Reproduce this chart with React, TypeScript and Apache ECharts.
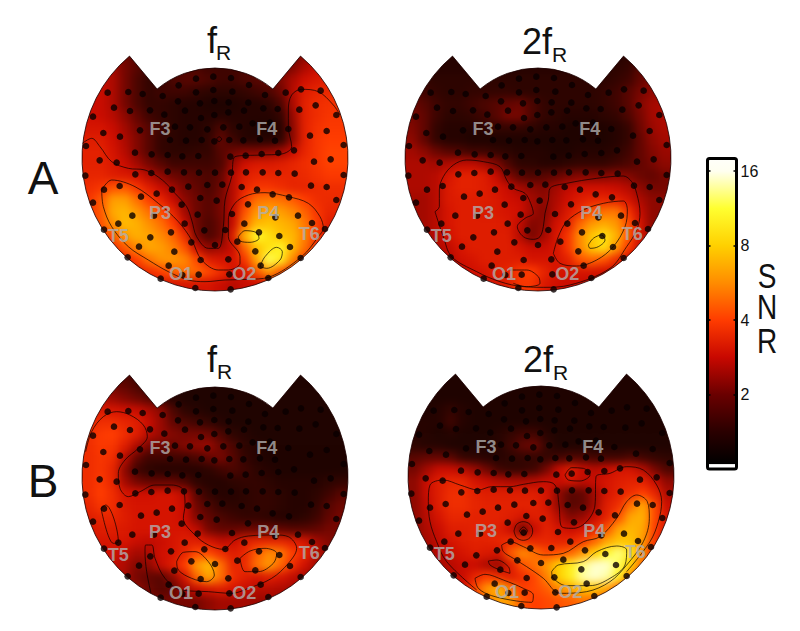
import React, { useEffect, useRef } from "react";
import * as echarts from "echarts";

const panelTitles = ["f", "2f", "f", "2f"];
const rowLetters = ["A", "B"];
const colorbarTicks = [2, 4, 8, 16];
const snrLetters = ["S", "N", "R"];

// Colours for log2(SNR) = 0, 0.5, 1 ... 4
const snrPalette = ["#000000", "#2a0000", "#6a0000", "#c80800", "#ff3c00", "#ff8c00", "#ffd000", "#ffff30", "#fffff0"];
const mapPalette = ["#170200", "#340400", "#760600", "#cc0c00", "#ff3c00", "#ff8c00", "#ffd000", "#ffff30", "#fffff0"];

const snrAF: number[][] = [
  [2.5,2.5,2.2,1.9,1.7,1.6,1.5,1.4,1.4,1.4,1.4,1.4,1.4,1.4,1.4,1.5,1.6,1.8,2.2,2.6,3,3],
  [2.6,2.6,2.4,2,1.7,1.5,1.4,1.5,1.6,1.6,1.5,1.5,1.5,1.6,1.6,1.6,1.8,2.1,2.5,2.8,3,3],
  [2.7,2.7,2.5,2,1.6,1.4,1.4,1.6,1.7,1.7,1.6,1.5,1.5,1.6,1.7,1.8,2.1,2.5,2.9,3.1,3.2,3.2],
  [2.8,2.8,2.5,2,1.6,1.4,1.5,1.5,1.5,1.4,1.3,1.3,1.3,1.4,1.5,1.6,1.9,2.6,3.2,3.4,3.5,3.5],
  [2.8,2.8,2.5,2,1.6,1.4,1.4,1.3,1.2,1.2,1.1,1.1,1.1,1.2,1.2,1.3,1.6,2.5,3.3,3.6,3.7,3.7],
  [2.9,2.8,2.6,2.2,1.8,1.5,1.4,1.3,1.2,1.2,1.2,1.2,1.2,1.2,1.2,1.2,1.4,2.3,3.3,3.6,3.8,3.8],
  [3,3,2.8,2.4,2,1.7,1.5,1.3,1.2,1.2,1.3,1.6,1.3,1.2,1.1,1.1,1.2,2.2,3.3,3.7,3.9,3.9],
  [3.2,3.2,2.9,2.5,2.1,1.7,1.4,1.3,1.2,1.2,1.4,1.8,1.5,1.2,1.2,1.2,1.3,2.2,3.3,3.8,4,4],
  [3.3,3.3,3,2.6,2.1,1.7,1.4,1.3,1.3,1.4,1.4,1.7,1.9,2.1,2.1,2.2,2.4,2.8,3.4,3.8,4.1,4.1],
  [3.3,3.3,3.1,2.8,2.4,2,1.7,1.5,1.5,1.5,1.5,1.6,2.3,2.9,3.1,3.1,3.2,3.4,3.6,3.8,4.1,4.1],
  [3.4,3.4,3.2,3.1,3,2.6,2.2,1.9,1.8,1.7,1.6,1.8,2.6,3.2,3.4,3.4,3.4,3.4,3.5,3.7,3.9,3.9],
  [3.6,3.8,4.4,4.5,3.8,3.2,2.8,2.4,2,1.8,1.6,1.9,2.6,3.4,3.8,3.8,3.6,3.4,3.4,3.5,3.6,3.6],
  [3.8,4.5,6.2,6.2,5,4,3.4,2.8,2.2,1.9,1.7,2,2.6,3.8,5,5.2,5,4.6,4,3.6,3.5,3.5],
  [3.8,4.5,6.6,7,6,5,4.3,3.4,2.4,1.9,1.7,2,2.7,4.4,6,6.5,6.2,5.5,4.7,3.8,3.4,3.4],
  [3.8,4.4,5.8,7.2,6.8,5.8,5,4,2.8,1.9,1.6,1.9,2.8,5,7,7.5,7,6.5,5.2,4,3.2,3],
  [3.2,3.6,4.5,6,6.8,6.4,5.6,4.8,3.6,2,1.6,1.9,3.2,7,11,9,7.5,7,5.4,3.8,3,3],
  [3,3,3.6,4.5,5.5,6.5,6.2,5.4,4.4,2.8,2.2,2.4,2.8,4.8,7.5,9,10.5,7,5,3.5,3,3],
  [3,3,3,3.4,4,5,5.8,6,5.5,4.2,3.2,3,3,3.8,6.5,12,10,5.5,3.8,3,3,3],
  [3,3,3,3,3.2,3.6,4,4.6,5,4.8,4.2,3.6,3,3,4.5,6,4.5,3.4,3,3,3,3],
  [2.8,2.8,2.8,2.8,2.8,2.9,3,3,3,3,3,2.8,2.6,2.8,2.8,2.9,2.8,2.7,2.7,2.7,2.7,2.7],
];

const snrA2F: number[][] = [
  [1.3,1.3,1.2,1.2,1.2,1.2,1.2,1.2,1.2,1.2,1.2,1.2,1.2,1.2,1.2,1.2,1.2,1.2,1.3,1.4,1.6,1.8],
  [1.4,1.3,1.2,1.2,1.2,1.2,1.2,1.2,1.2,1.2,1.2,1.2,1.2,1.2,1.2,1.2,1.2,1.3,1.4,1.7,2,2.2],
  [1.5,1.4,1.3,1.3,1.3,1.3,1.3,1.3,1.3,1.3,1.3,1.3,1.3,1.3,1.3,1.3,1.3,1.4,1.5,1.8,2.1,2.3],
  [1.7,1.5,1.4,1.3,1.3,1.4,1.4,1.4,1.4,1.3,1.3,1.3,1.3,1.3,1.3,1.3,1.4,1.5,1.7,2,2.2,2.4],
  [1.9,1.7,1.5,1.4,1.4,1.5,1.6,1.7,1.8,1.9,1.6,1.4,1.3,1.3,1.3,1.3,1.4,1.5,1.7,2.1,2.4,2.5],
  [2,1.8,1.5,1.3,1.3,1.4,1.5,1.7,2,2,1.6,1.4,1.3,1.2,1.2,1.2,1.3,1.4,1.6,2,2.4,2.5],
  [2.1,1.8,1.4,1.2,1.2,1.2,1.3,1.4,1.4,1.4,1.3,1.2,1.2,1.1,1.1,1.1,1.1,1.2,1.4,1.9,2.3,2.5],
  [2.2,1.8,1.4,1.2,1.2,1.1,1.1,1.1,1.1,1.1,1.1,1.1,1.1,1.1,1.1,1.1,1.1,1.2,1.4,1.8,2.2,2.4],
  [2.4,2.2,1.9,1.7,1.6,1.5,1.5,1.4,1.3,1.2,1.2,1.2,1.1,1.1,1.2,1.2,1.2,1.3,1.5,1.8,2.1,2.3],
  [2.5,2.5,2.4,2.5,2.7,2.7,2.5,2.1,1.6,1.3,1.3,1.2,1.2,1.3,1.4,1.4,1.4,1.5,1.6,1.8,2,2.2],
  [2.5,2.5,2.6,3,3.3,3.3,3.2,2.8,2.1,1.7,1.6,1.7,1.8,2,2.1,2.1,2.1,2.2,2.1,1.9,1.8,2],
  [2.5,2.5,2.6,3.1,3.3,3.3,3.2,3,2.8,2.4,2.2,2.1,2.4,2.7,2.9,2.9,2.9,2.8,2.6,2.2,2,2],
  [2.4,2.4,2.6,3.1,3.2,3.2,3.2,3.1,2.9,2.8,2.4,2.2,2.5,2.9,3.2,3.4,3.4,3.3,3,2.5,2.2,2.2],
  [2.4,2.4,2.6,3,3.2,3.2,3.1,3.1,3,2.9,2.4,2.1,2.6,3.1,3.6,4.4,5,5.2,3.8,2.8,2.2,2.2],
  [2.4,2.4,2.6,3,3.2,3.2,3.2,3.2,3.1,2.7,2.1,2.2,2.9,3.3,4.8,6,6.6,6,4.4,3,2.2,2.2],
  [2.4,2.4,2.6,2.9,3.2,3.2,3.2,3.2,3.2,2.6,2,2.4,3,3.8,5.6,7.6,9,7,4.6,3,2.3,2.3],
  [2.4,2.4,2.5,2.7,3,3.2,3.2,3.2,3.2,3,2.8,2.8,3,3.8,5.5,7.5,9,6,4,2.8,2.3,2.3],
  [2.4,2.4,2.4,2.5,2.9,3,3.2,3.2,3.2,3.2,3,3,3,3.3,4.4,4.8,4.4,3.6,2.8,2.4,2.3,2.3],
  [2.4,2.4,2.4,2.4,2.6,2.9,3,3.2,3.4,3.9,4,3.4,3,3,3,3,2.9,2.7,2.5,2.4,2.3,2.3],
  [2.4,2.4,2.4,2.4,2.5,2.7,2.9,3,3.2,3.8,3.8,3.1,2.9,2.8,2.8,2.7,2.6,2.5,2.4,2.3,2.3,2.3],
];

const snrBF: number[][] = [
  [2,1.8,1.7,1.6,1.5,1.3,1.2,1.1,1.1,1.1,1.1,1.1,1.1,1.1,1.1,1.1,1.1,1.1,1.1,1.1,1.1,1.1],
  [2.2,2,1.9,1.8,1.6,1.4,1.2,1.1,1.1,1.1,1.1,1.1,1.1,1.1,1.1,1.1,1.1,1.1,1.1,1.1,1.1,1.1],
  [2.6,2.5,2.3,2.1,1.9,1.7,1.4,1.2,1.1,1.1,1.1,1.1,1.1,1.1,1.1,1.1,1.1,1.1,1.1,1.1,1.1,1.1],
  [3,3.1,3,2.9,2.8,2.5,2.2,1.6,1.3,1.2,1.1,1.1,1.1,1.1,1.1,1.1,1.1,1.1,1.1,1.1,1.1,1.1],
  [3.4,3.6,3.6,3.4,3.2,2.8,2.3,1.8,1.6,1.5,1.4,1.2,1.1,1.1,1.1,1.1,1.1,1.1,1.1,1.1,1.1,1.1],
  [3.6,3.9,4,3.6,3.2,2.6,2.3,2.1,2,2,1.9,1.6,1.3,1.2,1.1,1.1,1.1,1.1,1.1,1.1,1.1,1.1],
  [3.6,3.9,3.8,3.2,2.5,2,1.9,1.9,2.1,2.2,2.3,1.9,1.6,1.3,1.2,1.1,1.1,1.1,1.1,1.1,1.1,1.1],
  [3.6,3.8,3.6,2.6,1.8,1.5,1.5,1.5,1.5,1.6,1.8,2,1.7,1.4,1.2,1.1,1.1,1.1,1.1,1.1,1.1,1.1],
  [3.6,3.8,3.4,2.2,1.5,1.3,1.2,1.2,1.2,1.2,1.3,1.5,1.6,1.5,1.3,1.2,1.1,1.1,1.1,1.1,1.1,1.1],
  [3.6,3.9,3.4,2.4,2,1.8,1.8,1.8,1.6,1.3,1.2,1.2,1.3,1.4,1.4,1.3,1.2,1.2,1.2,1.2,1.3,1.4],
  [3.6,4,3.6,3,2.9,2.9,3,3,2.6,1.7,1.4,1.2,1.2,1.3,1.4,1.4,1.3,1.2,1.2,1.3,1.5,1.7],
  [3.4,3.8,3.6,3.1,3,3,3,3,2.8,1.9,1.6,1.4,1.3,1.3,1.4,1.4,1.3,1.2,1.2,1.4,1.7,1.9],
  [3.2,3.4,3.4,3.2,3,3,3,3,2.8,2.1,1.8,1.6,1.5,1.4,1.4,1.3,1.2,1.2,1.3,1.5,1.8,2],
  [3,3.2,3.2,3.1,3,3,3,3,3,2.7,2,1.8,1.8,1.9,1.9,1.9,1.8,1.7,1.7,1.8,2,2],
  [3,3,3,3,2.8,2.7,2.8,3,3.2,3.2,3,2.7,2.8,3.2,3.4,3.4,3.4,3.2,3,2.4,2.1,2],
  [3,2.9,2.9,2.7,2.4,2.5,2.9,3,3.4,4.2,4.2,3.6,3.2,3.4,4.6,5.6,5.2,4,3.4,2.6,2.2,2],
  [3,2.8,2.7,2.5,2.1,2.2,2.8,3.2,4,6,7.2,5,3.4,3.5,5,6,4.8,3.6,2.9,2.4,2.2,2],
  [2.8,2.7,2.6,2.4,2,1.8,1.7,2.2,3,4.8,6.4,5,3.6,3.2,3,3.2,3,2.7,2.4,2.2,2.1,2],
  [2.5,2.5,2.5,2.4,2.2,1.9,1.7,1.8,2.4,2.8,3,3.2,3,2.8,2.6,2.6,2.5,2.4,2.3,2.1,2,2],
  [2.4,2.4,2.4,2.4,2.3,2.1,2,2,2,2,2.2,2.4,2.4,2.4,2.3,2.3,2.3,2.2,2.2,2,2,2],
];

const snrB2F: number[][] = [
  [1.1,1.1,1.1,1.1,1.1,1.1,1.1,1.1,1.1,1.1,1.1,1.1,1.1,1.1,1.1,1.1,1.1,1.1,1.1,1.1,1.1,1.1],
  [1.1,1.1,1.1,1.1,1.1,1.1,1.1,1.1,1.1,1.1,1.1,1.1,1.1,1.1,1.1,1.1,1.1,1.1,1.1,1.1,1.1,1.1],
  [1.1,1.1,1.1,1.1,1.1,1.1,1.1,1.1,1.1,1.1,1.1,1.1,1.1,1.1,1.1,1.1,1.1,1.1,1.1,1.1,1.1,1.1],
  [1.1,1.1,1.2,1.4,1.2,1.1,1.1,1.1,1.1,1.1,1.1,1.1,1.1,1.1,1.1,1.1,1.1,1.1,1.1,1.1,1.1,1.1],
  [1.2,1.2,1.2,1.5,1.2,1.1,1.1,1.1,1.1,1.1,1.1,1.1,1.1,1.1,1.1,1.1,1.1,1.1,1.1,1.1,1.1,1.1],
  [1.2,1.2,1.1,1.2,1.1,1.1,1.1,1.2,1.4,1.5,1.5,1.2,1.1,1.1,1.1,1.1,1.1,1.1,1.1,1.1,1.1,1.1],
  [1.3,1.2,1.2,1.1,1.1,1.1,1.1,1.2,1.5,1.8,1.9,1.4,1.1,1.1,1.1,1.1,1.1,1.1,1.1,1.1,1.1,1.1],
  [1.7,1.8,1.8,1.7,1.4,1.3,1.2,1.2,1.3,1.4,1.4,1.4,1.5,1.6,1.6,1.5,1.5,1.5,1.6,1.5,1.4,1.3],
  [2,2.4,2.8,2.8,2.6,2.3,1.9,1.5,1.4,1.4,1.5,2,2.8,3.2,2.8,2.6,2.8,3,3,2.6,2,1.6],
  [2.2,2.8,3.2,3.4,3.4,3,2.8,2.6,2.5,2.5,2.6,2.8,2.8,3,2.7,2.8,3,3.2,3.3,3.3,2.8,2.2],
  [2.2,2.8,3.2,3.6,3.6,3.3,3.2,3.2,3.2,3.2,3.2,3,2.2,1.7,1.8,2.4,3,3.3,3.6,4,3.4,2.5],
  [2.2,2.7,3.2,3.6,3.6,3.4,3.3,3.3,3.3,3.3,3.3,3,2.2,1.7,1.8,2.4,3.2,3.6,5,6.5,4.2,2.8],
  [2.2,2.6,3,3.4,3.4,3.3,3.3,3.3,3.2,3,3.2,3.2,2.6,2.1,2.3,2.8,3.3,4.4,6.5,6.8,4.2,3],
  [2.2,2.5,2.8,3.2,3.2,3.3,3.3,3.2,2.8,1.9,2.8,3.3,3,2.8,3,3.4,4.4,6.4,7,6.5,4,3],
  [2.2,2.4,2.7,3,3.2,3.3,3.3,3.4,3.6,3.6,3.4,3.4,3.3,3.4,3.8,4.8,6.4,7.5,7.5,6,3.8,2.8],
  [2.2,2.4,2.6,2.8,3,3.2,3.1,3,4.6,5.6,5,4.2,4.4,4.8,6,8,11,13,9.5,5.5,3.4,2.8],
  [2.2,2.3,2.4,2.6,2.8,2.8,2.5,2.3,3.2,4.4,5,6,8,10,13,15,15,12,8,4.8,3.2,2.8],
  [2.2,2.3,2.4,2.6,2.8,3.4,4,3.6,3.2,3.6,4.2,5.4,8,10,14,15,14,10,5.5,3.6,2.8,2.8],
  [2.2,2.3,2.4,2.6,2.9,4.2,6,7,5.2,4,4.2,4.6,5.5,6.5,7.5,7.5,6.5,4.6,3.6,3,2.8,2.8],
  [2.2,2.3,2.4,2.6,2.8,3.4,5,6.4,6,4.4,4,4.2,4.4,4.6,5,4.8,4.2,3.4,3,2.8,2.8,2.8],
];

// Electrode net (same for all panels), in head units
const electrodes: number[][] = [
  [363,116],[415,110],[468,114],[311,136],[522,135],[263,168],[363,157],[415,150],[472,155],[570,165],
  [98,158],[160,156],[203,162],[632,158],[678,148],[737,152],[309,184],[418,183],[461,187],[375,190],[520,188],
  [117,203],[165,213],[225,211],[268,224],[330,212],[378,234],[460,217],[418,225],[507,212],[608,207],[565,205],[673,209],[722,196],
  [54,230],[345,262],[397,268],[445,262],[493,260],[533,250],[585,248],[640,267],[755,273],[705,287],[784,225],
  [85,279],[135,290],[195,271],[300,260],[33,318],[180,338],[230,343],[278,345],[322,349],[370,348],
  [418,304],[463,300],[505,301],[555,298],[600,302],[333,302],[285,300],[380,300],
  [466,350],[512,347],[560,342],[610,339],[657,331],[717,365],[767,358],[806,315],[806,405],
  [74,361],[125,368],[31,407],[181,403],[229,399],[278,395],[327,397],[372,398],[420,398],[468,398],[513,397],[563,397],[610,399],[659,401],[708,437],[755,441],
  [87,449],[134,438],[198,470],[245,461],[291,449],[340,440],[397,435],[442,434],[500,441],[546,449],[593,463],[642,472],[784,480],
  [54,488],[320,494],[376,474],[425,482],[519,493],[471,522],[368,524],[172,527],[237,527],
  [669,527],[601,532],[130,551],[329,551],[508,551],[711,549],[87,569],[388,571],[451,570],[552,577],[613,588],[750,567],
  [226,592],[288,577],[349,607],[487,605],[645,621],[192,620],[420,615],[298,635],[541,634],[158,652],[377,660],[460,658],[677,654],
  [281,677],[557,677],[257,716],[322,705],[371,704],[463,703],[580,714],[361,744],[467,748],
];

const siteNames = ["F3", "F4", "P3", "P4", "T5", "T6", "O1", "O2"];
const sitePositions: number[][] = [[255,268],[575,266],[255,518],[580,518],[130,588],[703,583],[318,703],[508,703]];

const contoursAF: number[][][] = [
  [[22,310],[50,295],[75,320],[110,365],[160,385],[210,390],[262,420],[300,460],[335,500],[350,540],[365,590],[400,625],[430,625],[445,560],[450,480],[470,410],[480,350],[560,345],[620,342],[650,320],[640,260],[640,210],[650,165],[680,148],[730,155],[775,195],[795,225]],
  [[80,450],[110,420],[180,440],[250,490],[310,545],[350,600],[380,660],[430,690],[460,690],[495,670],[495,650],[460,590],[460,540],[480,490],[520,465],[570,458],[640,470],[700,490],[735,530],[745,565],[730,590],[680,650],[580,712],[520,718],[450,720],[390,725],[340,720],[280,695],[220,660],[160,620],[110,560],[85,500],[80,450]],
  [[490,590],[510,572],[545,578],[552,595],[525,607],[495,603],[490,590]],
  [[555,680],[570,650],[605,622],[622,635],[615,660],[575,685],[555,680]],
  [[425,297],[432,290],[440,297],[432,305],[425,297]],
];

const contoursA2F: number[][][] = [
  [[75,515],[88,500],[88,450],[100,410],[130,375],[170,360],[220,365],[270,380],[290,420],[310,445],[345,460],[362,490],[370,520],[345,535],[322,560],[340,590],[370,598],[390,590],[400,560],[405,520],[415,480],[420,445],[470,430],[560,415],[640,408],[665,425],[680,460],[690,520],[680,570],[650,620],[600,685],[480,735],[400,742],[340,740],[270,725],[200,695],[125,650],[100,590],[75,515]],
  [[430,640],[445,590],[470,545],[520,510],[580,490],[640,483],[652,510],[645,560],[610,620],[560,660],[500,678],[450,670],[430,640]],
  [[535,615],[550,595],[575,585],[585,600],[565,620],[540,625],[535,615]],
  [[300,690],[350,690],[385,710],[390,730],[350,740],[310,730]],
];

const contoursBF: number[][][] = [
  [[32,320],[50,260],[85,215],[125,200],[165,210],[205,240],[217,275],[190,310],[150,345],[130,385],[135,430],[160,455],[195,440],[240,420],[290,420],[325,435],[330,480],[325,520],[360,570],[400,600],[445,613],[480,585],[520,573],[600,570],[640,575],[665,610],[640,655],[590,700],[520,730],[470,745],[400,740],[320,735],[270,700],[240,640],[230,600],[212,600],[210,620],[215,680],[228,745]],
  [[78,490],[92,480],[130,590],[115,595],[78,490]],
  [[305,650],[325,622],[360,620],[400,650],[418,690],[395,710],[350,700],[310,675],[305,650]],
  [[495,640],[525,618],[570,610],[605,625],[595,655],[550,680],[510,680],[495,640]],
];

const contoursB2F: number[][][] = [
  [[200,735],[110,650],[80,590],[60,530],[55,470],[60,420],[100,405],[150,420],[205,435],[245,425],[300,425],[340,418],[400,410],[435,420],[447,480],[455,545],[490,550],[530,530],[555,480],[558,395],[600,385],[650,365],[700,375],[740,420],[755,470],[745,530],[720,590],[650,680]],
  [[275,600],[300,590],[340,605],[400,630],[460,625],[520,590],[570,575],[620,520],[650,470],[680,450],[712,470],[718,520],[700,590],[650,660],[600,710],[530,740],[450,745],[400,700],[350,665],[310,640],[280,620],[275,600]],
  [[425,680],[445,660],[520,650],[560,620],[620,603],[650,615],[645,660],[600,700],[540,722],[470,722],[430,700],[425,680]],
  [[465,390],[485,368],[520,370],[540,390],[510,408],[475,405],[465,390]],
  [[312,558],[320,538],[340,530],[360,538],[368,558],[360,578],[340,586],[320,578],[312,558]],
  [[328,558],[340,546],[352,558],[340,570],[328,558]],
  [[235,648],[260,645],[295,665],[300,685],[270,675],[240,660],[235,648]],
  [[195,700],[225,688],[280,705],[340,730],[370,750],[365,772],[320,768],[245,752],[205,730],[195,700]],
];

const panels = [
  { snr: snrAF, contours: contoursAF, shift: [0, 0], cx: 215, cy: 158, title: 0, tx: 207, ty: 40, rx: 216, ry: 52.6 },
  { snr: snrA2F, contours: contoursA2F, shift: [36, 0], cx: 538, cy: 158, title: 1, tx: 522, ty: 41.4, rx: 552, ry: 54.6 },
  { snr: snrBF, contours: contoursBF, shift: [0, -42], cx: 215, cy: 477, title: 2, tx: 207, ty: 359.4, rx: 217, ry: 371.6 },
  { snr: snrB2F, contours: contoursB2F, shift: [27, -39], cx: 541, cy: 476, title: 3, tx: 523, ty: 359.4, rx: 553, ry: 372.6 },
];

const FONT = '"Liberation Sans", Arial, sans-serif';
const PAD = 2;
const CELL = 12;
const hole = "M-85.5,-101.9 L-57.9,-68.9 A90,90 0 0 1 57.9,-68.9 L85.5,-101.9 A133,133 0 1 1 -85.5,-101.9 Z";
echarts.graphic.registerShape("headMask", echarts.graphic.extendPath("M-175,-150 L-175,180 L175,180 L175,-150 Z " + hole, {}));
echarts.graphic.registerShape("headOutline", echarts.graphic.extendPath(hole, {}));

function heatOption() {
  const cols = 22 + 2 * PAD;
  const rows = 20 + 2 * PAD;
  const range = (n: number) => Array.from({ length: n }, (_, i) => String(i));
  const grid: any[] = [], xAxis: any[] = [], yAxis: any[] = [], series: any[] = [];
  panels.forEach((p, i) => {
    grid.push({ left: p.cx - 132 - PAD * CELL, top: p.cy - 108 - PAD * CELL, width: cols * CELL, height: rows * CELL });
    xAxis.push({ type: "category", gridIndex: i, data: range(cols), show: false });
    yAxis.push({ type: "category", gridIndex: i, data: range(rows), show: false, inverse: true });
    const data: number[][] = [];
    for (let r = 0; r < rows; r++) {
      for (let c = 0; c < cols; c++) {
        const row = p.snr[Math.min(19, Math.max(0, r - PAD))];
        const v = row[Math.min(21, Math.max(0, c - PAD))];
        data.push([c, r, Math.log2(v)]);
      }
    }
    series.push({ type: "heatmap", xAxisIndex: i, yAxisIndex: i, data, itemStyle: { borderWidth: 0 } });
  });
  return {
    animation: false,
    grid, xAxis, yAxis, series,
    visualMap: { show: false, type: "continuous", dimension: 2, min: 0, max: 4, inRange: { color: mapPalette } },
  };
}

function mainOption() {
  const grid: any[] = [], xAxis: any[] = [], yAxis: any[] = [], series: any[] = [], graphic: any[] = [];
  panels.forEach((p, i) => {
    grid.push({ left: p.cx - 140, top: p.cy - 118, width: 280, height: 254 });
    xAxis.push({ type: "value", gridIndex: i, min: 0, max: 840, show: false });
    yAxis.push({ type: "value", gridIndex: i, min: 0, max: 762, inverse: true, show: false });
    p.contours.forEach((c) => {
      series.push({
        type: "line", xAxisIndex: i, yAxisIndex: i, showSymbol: false, smooth: 0.35, z: 3,
        data: c.map(([x, y]) => [x + p.shift[0], y + p.shift[1]]),
        lineStyle: { color: "#000", width: 0.8, opacity: 0.85 }, silent: true,
      });
    });
    series.push({
      type: "scatter", xAxisIndex: i, yAxisIndex: i, z: 4, symbolSize: 6.6, data: electrodes, itemStyle: { color: "#0a0000" }, silent: true,
    });
    series.push({
      type: "scatter", xAxisIndex: i, yAxisIndex: i, z: 5, symbolSize: 0, silent: true,
      data: sitePositions.map((pos, k) => ({ name: siteNames[k], value: pos })),
      label: { show: true, position: "inside", formatter: "{b}", color: "#b0b0b0", fontFamily: FONT, fontWeight: "bold", fontSize: 18 },
    });
    graphic.push({ type: "headMask", x: p.cx, y: p.cy, z: 0, style: { fill: "#fff" }, silent: true });
    graphic.push({ type: "headOutline", x: p.cx, y: p.cy, z: 6, style: { fill: "none", stroke: "#1a0000", lineWidth: 0.8 }, silent: true });
    graphic.push({ type: "text", x: p.tx, y: p.ty, z: 10, style: { text: panelTitles[p.title], font: `36px ${FONT}`, fill: "#111", align: "left", verticalAlign: "middle" } });
    graphic.push({ type: "text", x: p.rx, y: p.ry, z: 10, style: { text: "R", font: `21px ${FONT}`, fill: "#111", align: "left", verticalAlign: "middle" } });
  });

  rowLetters.forEach((t, i) => {
    graphic.push({ type: "text", x: 43, y: i === 0 ? 178 : 481, z: 10, style: { text: t, font: `46px ${FONT}`, fill: "#111", align: "center", verticalAlign: "middle" } });
  });
  snrLetters.forEach((t, i) => {
    graphic.push({ type: "text", x: 767, y: [276, 307, 341][i], scaleY: 1.25, z: 10, style: { text: t, font: `28px ${FONT}`, fill: "#111", align: "center", verticalAlign: "middle" } });
  });

  const barMax = 4.17;
  const off = (v: number) => 1 - v / barMax;
  const stops = [
    { offset: 0, color: "#fffffa" },
    ...snrPalette.slice().reverse().map((color, k) => ({ offset: off(4 - k * 0.5 + (k === 8 ? 0.065 : 0)), color })),
    { offset: off(0.06), color: "#fff" },
    { offset: 1, color: "#fff" },
  ];
  const k = panels.length;
  grid.push({ left: 707.5, top: 158.5, width: 29, height: 310.5 });
  xAxis.push({ type: "category", gridIndex: k, data: ["SNR"], show: false });
  const tickLabel = (v: number) => (colorbarTicks.includes(2 ** v) ? String(2 ** v) : "");
  yAxis.push({
    type: "value", gridIndex: k, position: "right", min: 0, max: barMax, interval: 1, z: 5,
    axisLine: { show: false }, splitLine: { show: false },
    axisTick: { show: true, inside: true, length: 3, lineStyle: { color: "#000", width: 1.5 } },
    axisLabel: { formatter: tickLabel, color: "#111", fontFamily: FONT, fontSize: 16, margin: 4, showMaxLabel: false },
  });
  yAxis.push({
    type: "value", gridIndex: k, position: "left", min: 0, max: barMax, interval: 1, z: 5,
    axisLine: { show: false }, splitLine: { show: false }, axisLabel: { show: false },
    axisTick: { show: true, inside: true, length: 3, lineStyle: { color: "#000", width: 1.5 } },
  });
  series.push({
    type: "bar", xAxisIndex: k, yAxisIndex: k, barWidth: "100%", data: [barMax], silent: true, z: 2,
    itemStyle: { color: { type: "linear", x: 0, y: 0, x2: 0, y2: 1, colorStops: stops } },
  });
  graphic.push({ type: "rect", z: 10, silent: true, shape: { x: 707.5, y: 158.5, width: 29, height: 310.5, r: 2 }, style: { fill: "none", stroke: "#000", lineWidth: 3 } });

  return { animation: false, backgroundColor: "transparent", grid, xAxis, yAxis, series, graphic };
}

export default function App() {
  const heatRef = useRef<HTMLDivElement>(null);
  const mainRef = useRef<HTMLDivElement>(null);
  useEffect(() => {
    const heat = echarts.init(heatRef.current!, undefined, { renderer: "svg" });
    const main = echarts.init(mainRef.current!, undefined, { renderer: "svg" });
    heat.setOption(heatOption() as any);
    main.setOption(mainOption() as any);
    return () => {
      heat.dispose();
      main.dispose();
    };
  }, []);
  const layer: React.CSSProperties = { position: "absolute", left: 0, top: 0, width: 800, height: 631 };
  return (
    <div style={{ position: "fixed", left: 0, top: 0, width: 800, height: 631, overflow: "hidden", background: "#fff" }}>
      <div ref={heatRef} style={{ ...layer, filter: "blur(4.5px)" }} />
      <div ref={mainRef} style={layer} />
    </div>
  );
}
